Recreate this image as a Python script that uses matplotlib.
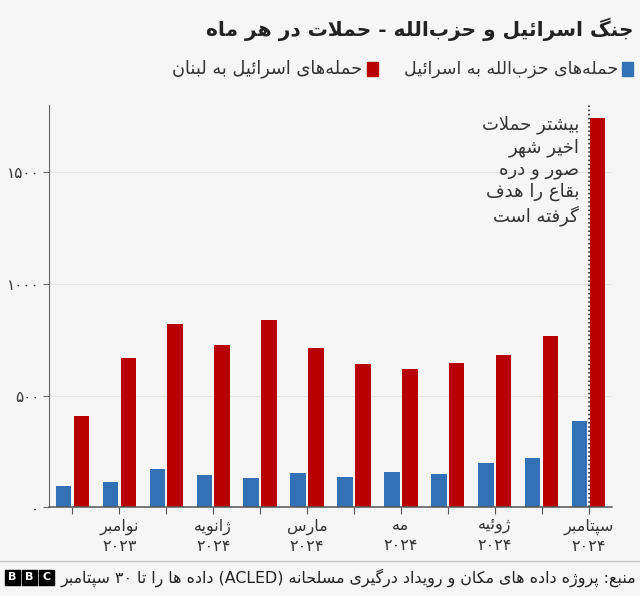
import re
import matplotlib
matplotlib.use('Agg')
import matplotlib.pyplot as plt
from matplotlib.patches import Rectangle
from matplotlib.lines import Line2D
import numpy as np

# attacks per month, Oct 2023 - Sep 2024
hezbollah_attacks = [95, 115, 170, 143, 131, 152, 134, 157, 149, 197, 219, 388]
israel_attacks = [409, 667, 820, 726, 838, 712, 639, 617, 645, 681, 766, 1740]

# only every other month gets a label
month_labels = ['', 'نوامبر\n۲۰۲۳', '', 'ژانویه\n۲۰۲۴', '', 'مارس\n۲۰۲۴',
                '', 'مه\n۲۰۲۴', '', 'ژوئیه\n۲۰۲۴', '', 'سپتامبر\n۲۰۲۴']
y_ticks = [0, 500, 1000, 1500]
y_tick_labels = ['۰', '۵۰۰', '۱۰۰۰', '۱۵۰۰']

title = 'جنگ اسرائیل و حزب\u200cالله - حملات در هر ماه'
legend_blue = 'حمله\u200cهای حزب\u200cالله به اسرائیل'
legend_red = 'حمله\u200cهای اسرائیل به لبنان'
note = 'بیشتر حملات\nاخیر شهر\nصور و دره\nبقاع را هدف\nگرفته است'
source = 'منبع: پروژه داده های مکان و رویداد درگیری مسلحانه (ACLED) داده ها را تا ۳۰ سپتامبر'

BG = '#f6f6f6'
BLUE = '#3371b6'
RED = '#b80000'

# matplotlib has no arabic shaping, so do it by hand with presentation forms
# dual joining letters: isolated, final, initial, medial
DUAL = {
    'ب': '\uFE8F\uFE90\uFE91\uFE92', 'پ': '\uFB56\uFB57\uFB58\uFB59',
    'ت': '\uFE95\uFE96\uFE97\uFE98', 'ث': '\uFE99\uFE9A\uFE9B\uFE9C',
    'ج': '\uFE9D\uFE9E\uFE9F\uFEA0', 'چ': '\uFB7A\uFB7B\uFB7C\uFB7D',
    'ح': '\uFEA1\uFEA2\uFEA3\uFEA4', 'خ': '\uFEA5\uFEA6\uFEA7\uFEA8',
    'س': '\uFEB1\uFEB2\uFEB3\uFEB4', 'ش': '\uFEB5\uFEB6\uFEB7\uFEB8',
    'ص': '\uFEB9\uFEBA\uFEBB\uFEBC', 'ض': '\uFEBD\uFEBE\uFEBF\uFEC0',
    'ط': '\uFEC1\uFEC2\uFEC3\uFEC4', 'ظ': '\uFEC5\uFEC6\uFEC7\uFEC8',
    'ع': '\uFEC9\uFECA\uFECB\uFECC', 'غ': '\uFECD\uFECE\uFECF\uFED0',
    'ف': '\uFED1\uFED2\uFED3\uFED4', 'ق': '\uFED5\uFED6\uFED7\uFED8',
    '\u06A9': '\uFB8E\uFB8F\uFB90\uFB91', '\u0643': '\uFB8E\uFB8F\uFB90\uFB91',
    'گ': '\uFB92\uFB93\uFB94\uFB95', 'ل': '\uFEDD\uFEDE\uFEDF\uFEE0',
    'م': '\uFEE1\uFEE2\uFEE3\uFEE4', 'ن': '\uFEE5\uFEE6\uFEE7\uFEE8',
    'ه': '\uFEE9\uFEEA\uFEEB\uFEEC', 'ئ': '\uFE89\uFE8A\uFE8B\uFE8C',
    '\u06CC': '\uFBFC\uFBFD\uFBFE\uFBFF', '\u064A': '\uFBFC\uFBFD\uFBFE\uFBFF',
}
# right joining letters: isolated, final
RIGHT = {
    'ا': '\uFE8D\uFE8E', 'آ': '\uFE81\uFE82', 'د': '\uFEA9\uFEAA',
    'ذ': '\uFEAB\uFEAC', 'ر': '\uFEAD\uFEAE', 'ز': '\uFEAF\uFEB0',
    'ژ': '\uFB8A\uFB8B', 'و': '\uFEED\uFEEE', 'ؤ': '\uFE85\uFE86',
}


def shape(line):
    out = []
    i = 0
    n = len(line)
    while i < n:
        c = line[i]
        prev = line[i - 1] if i > 0 else ''
        nxt = line[i + 1] if i + 1 < n else ''
        if c == '\u200c':
            i += 1
            continue
        jp = prev in DUAL and (c in DUAL or c in RIGHT)
        if c == 'ل' and nxt == 'ا':
            out.append('\uFEFC' if jp else '\uFEFB')
            i += 2
            continue
        if c in DUAL:
            jn = nxt in DUAL or nxt in RIGHT
            if jp and jn:
                out.append(DUAL[c][3])
            elif jp:
                out.append(DUAL[c][1])
            elif jn:
                out.append(DUAL[c][2])
            else:
                out.append(DUAL[c][0])
        elif c in RIGHT:
            out.append(RIGHT[c][1 if jp else 0])
        else:
            out.append(c)
        i += 1
    return ''.join(out)


def visual(s):
    # right to left: flip the line, keep numbers and latin the right way round
    r = s[::-1]
    r = re.sub(r'[A-Za-z0-9\u06F0-\u06F9]+', lambda m: m.group(0)[::-1], r)
    return r.translate(str.maketrans('()', ')('))


def fa(text):
    return '\n'.join(visual(shape(l)) for l in text.split('\n'))


plt.rcParams['font.family'] = ['DejaVu Sans']

fig = plt.figure(figsize=(6.4, 5.96), dpi=100, facecolor=BG)
ax = fig.add_axes([0.0766, 0.1488, 0.8797, 0.675])
ax.set_facecolor(BG)

x = np.arange(len(israel_attacks))
ax.bar(x - 0.19, hezbollah_attacks, 0.33, color=BLUE, zorder=2)
ax.bar(x + 0.19, israel_attacks, 0.33, color=RED, zorder=2)

ax.set_xlim(-0.5, 11.5)
ax.set_ylim(0, 1800)
ax.yaxis.grid(True, color='#e4e4e4', lw=0.8)
ax.set_axisbelow(True)

for side in ['top', 'right']:
    ax.spines[side].set_visible(False)
ax.spines['left'].set_color('#666666')
ax.spines['bottom'].set_color('#555555')
ax.spines['bottom'].set_linewidth(1.1)

ax.set_yticks(y_ticks)
ax.set_yticklabels([fa(t) for t in y_tick_labels], fontsize=11, color='#333333')
ax.tick_params(axis='y', length=4, color='#666666', pad=3)
ax.set_xticks(x)
ax.set_xticklabels([fa(t) for t in month_labels], fontsize=11.5, color='#333333',
                   linespacing=1.35)
ax.tick_params(axis='x', length=5, color='#555555', pad=3)

# september note
ax.axvline(11, color='#333333', ls=(0, (1, 1.5)), lw=1.2, zorder=3)
ax.text(10.8, 1752, fa(note), ha='right', va='top', fontsize=13,
        linespacing=1.26, color='#333333', multialignment='right')

# title and legend, right aligned
fig.text(633 / 640, 1 - 29 / 596, fa(title), ha='right', va='center',
         fontsize=14.5, fontweight='bold', color='#222222')
fig.patches.append(Rectangle((622 / 640, 1 - 76 / 596), 11 / 640, 14 / 596,
                             color=BLUE, transform=fig.transFigure))
fig.text(618 / 640, 1 - 69 / 596, fa(legend_blue), ha='right', va='center',
         fontsize=12.5, color='#333333')
fig.patches.append(Rectangle((367 / 640, 1 - 76 / 596), 11 / 640, 14 / 596,
                             color=RED, transform=fig.transFigure))
fig.text(362 / 640, 1 - 69 / 596, fa(legend_red), ha='right', va='center',
         fontsize=12.8, color='#333333')

# footer
fig.lines.append(Line2D([0, 1], [1 - 561 / 596, 1 - 561 / 596], color='#c8c8c8',
                        lw=1, transform=fig.transFigure))
fig.text(636 / 640, 1 - 578 / 596, fa(source), ha='right', va='center',
         fontsize=11.4, color='#222222')
for k, letter in enumerate('BBC'):
    x0 = 5 + k * 17
    fig.patches.append(Rectangle((x0 / 640, 1 - 585 / 596), 15 / 640, 15 / 596,
                                 color='black', transform=fig.transFigure))
    fig.text((x0 + 7.5) / 640, 1 - 577.5 / 596, letter, ha='center', va='center',
             fontsize=8, fontweight='bold', color='white')

fig.savefig('out.png', dpi=100, facecolor=BG)
